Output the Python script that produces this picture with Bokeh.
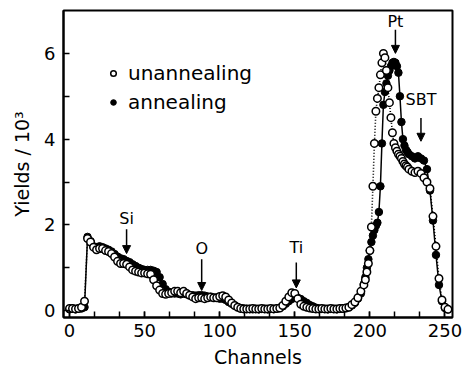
from bokeh.plotting import figure
from bokeh.models import (Range1d, FixedTicker, Legend, LegendItem, Arrow,
                          NormalHead, ColumnDataSource)
from bokeh.core.properties import value
from bokeh.embed import file_html
from bokeh.resources import INLINE

FONT = "DejaVu Sans"

# channel grid (step 2, step 1 around the Pt peak)
channels = list(range(0, 196, 2)) + list(range(196, 226)) + list(range(226, 254, 2))

annealing = [
    0.03, 0.05, 0.03, 0.05, 0.05, 0.08, 1.72, 1.62, 1.50, 1.48,
    1.50, 1.48, 1.45, 1.42, 1.38, 1.32, 1.26, 1.22, 1.20, 1.16,
    1.13, 1.08, 1.04, 1.00, 0.97, 0.95, 0.95, 0.95, 0.93, 0.90,
    0.78, 0.62, 0.50, 0.44, 0.40, 0.40, 0.40, 0.38, 0.40, 0.38,
    0.36, 0.36, 0.35, 0.36, 0.36, 0.35, 0.33, 0.32, 0.30, 0.30,
    0.28, 0.28, 0.25, 0.20, 0.16, 0.12, 0.08, 0.06, 0.05, 0.04,
    0.04, 0.03, 0.04, 0.03, 0.04, 0.04, 0.03, 0.04, 0.04, 0.05,
    0.06, 0.10, 0.16, 0.22, 0.27, 0.30, 0.30, 0.27, 0.22, 0.18,
    0.13, 0.10, 0.07, 0.05, 0.04, 0.04, 0.03, 0.04, 0.04, 0.03,
    0.04, 0.05, 0.06, 0.08, 0.12, 0.18, 0.28, 0.40,
    0.62, 0.78, 1.00, 1.20, 1.40, 1.60, 1.75, 1.88, 1.98, 2.05,
    2.30, 2.90, 3.90, 4.80, 5.10, 5.30, 5.48, 5.60, 5.70, 5.78,
    5.80, 5.78, 5.70, 5.55, 5.00, 4.40, 4.00, 3.85, 3.75, 3.70,
    3.65, 3.60, 3.55, 3.60, 3.55, 3.50, 3.30, 2.80, 2.10, 1.30, 0.60, 0.22, 0.06, 0.03,
]

unannealing = [
    0.05, 0.05, 0.04, 0.05, 0.08, 0.22, 1.68, 1.60, 1.48, 1.42,
    1.45, 1.45, 1.40, 1.38, 1.33, 1.25, 1.15, 1.10, 1.10, 1.08,
    1.02, 0.95, 0.92, 0.90, 0.88, 0.88, 0.86, 0.85, 0.72, 0.58,
    0.48, 0.40, 0.38, 0.40, 0.42, 0.45, 0.45, 0.42, 0.45, 0.40,
    0.36, 0.32, 0.28, 0.30, 0.30, 0.28, 0.30, 0.32, 0.30, 0.30,
    0.33, 0.35, 0.32, 0.25, 0.18, 0.12, 0.08, 0.05, 0.04, 0.04,
    0.04, 0.05, 0.04, 0.04, 0.05, 0.04, 0.04, 0.05, 0.04, 0.05,
    0.06, 0.12, 0.22, 0.32, 0.42, 0.40, 0.28, 0.15, 0.10, 0.08,
    0.06, 0.05, 0.04, 0.04, 0.05, 0.04, 0.04, 0.05, 0.04, 0.04,
    0.05, 0.05, 0.06, 0.08, 0.14, 0.20, 0.30, 0.45,
    0.60, 0.72, 0.90, 1.10, 1.40, 1.95, 2.90, 3.90, 4.65, 4.95,
    5.20, 5.50, 5.78, 6.00, 5.90, 5.60, 5.20, 4.85, 4.50, 4.15,
    3.90, 3.80, 3.72, 3.65, 3.60, 3.55, 3.48, 3.42, 3.38, 3.35,
    3.30, 3.25, 3.22, 3.25, 3.20, 3.10, 3.00, 2.85, 2.20, 1.50, 0.75, 0.25, 0.08, 0.03,
]

# element annotations
elem_names = ["Si", "O", "Ti", "Pt", "SBT"]
elem_text_x = [38, 88, 151, 217, 234]
elem_text_y = [2.16, 1.44, 1.47, 6.75, 4.93]
arrow_x = [38, 88, 151, 217, 234]
arrow_top = [1.90, 1.20, 1.12, 6.55, 4.49]
arrow_tip = [1.33, 0.47, 0.53, 6.00, 3.95]

x_major = [0, 50, 100, 150, 200, 250]
x_minor = [i * 50 / 3 for i in range(16)]
y_major = [0, 2, 4, 6]
y_minor = [1, 3, 5]

p = figure(width=468, height=377, output_backend="svg", toolbar_location=None,
           x_range=Range1d(-4, 255), y_range=Range1d(-0.16, 7.0),
           min_border_left=63, min_border_right=16, min_border_top=10,
           min_border_bottom=60)
p.background_fill_color = "white"
p.border_fill_color = "white"
p.grid.visible = False
p.outline_line_color = "black"
p.outline_line_width = 2

p.xaxis.ticker = FixedTicker(ticks=x_major, minor_ticks=x_minor)
p.yaxis.ticker = FixedTicker(ticks=y_major, minor_ticks=y_minor)
for ax in (p.xaxis, p.yaxis):
    ax.axis_line_width = 2
    ax.major_tick_in = 6
    ax.major_tick_out = 0
    ax.minor_tick_in = 6
    ax.minor_tick_out = 0
    ax.major_tick_line_width = 1.5
    ax.minor_tick_line_width = 1.5
    ax.major_label_text_font = FONT
    ax.major_label_text_font_size = "18px"
    ax.major_label_text_color = "black"
    ax.axis_label_text_font = FONT
    ax.axis_label_text_font_size = "19px"
    ax.axis_label_text_font_style = "normal"
    ax.axis_label_text_color = "black"
p.xaxis.axis_label = "Channels"
p.yaxis.axis_label = "Yields / 10³"
p.xaxis.major_label_standoff = 6
p.yaxis.major_label_standoff = 8
p.xaxis.axis_label_standoff = 6
p.yaxis.axis_label_standoff = 8

src = ColumnDataSource(dict(x=channels, a=annealing, u=unannealing))

p.line("x", "a", source=src, line_color="black", line_width=1.5)
p.line("x", "u", source=src, line_color="black", line_width=1.6, line_dash="1 2")
r_fill = p.scatter("x", "a", source=src, size=7.5, marker="circle",
                   fill_color="black", line_color="black", line_width=1)
r_open = p.scatter("x", "u", source=src, size=7.5, marker="circle",
                   fill_color="white", line_color="black", line_width=1.5)

lsrc = ColumnDataSource(dict(x=elem_text_x, y=elem_text_y, t=elem_names))
p.text("x", "y", text="t", source=lsrc, text_font=value(FONT),
       text_font_size="16px", text_align="center", text_baseline="middle",
       text_color="black")

asrc = ColumnDataSource(dict(x=arrow_x, y0=arrow_top, y1=arrow_tip))
p.add_layout(Arrow(end=NormalHead(size=8, fill_color="black", line_color="black"),
                   x_start="x", y_start="y0", x_end="x", y_end="y1",
                   source=asrc, line_color="black", line_width=1.5))

legend = Legend(items=[LegendItem(label="unannealing", renderers=[r_open]),
                       LegendItem(label="annealing", renderers=[r_fill])],
                location=(43, 203), background_fill_alpha=0, border_line_alpha=0,
                label_text_font=FONT, label_text_font_size="20px",
                label_text_color="black",
                glyph_width=14, glyph_height=14, label_standoff=8,
                spacing=5, padding=0, margin=0)
p.add_layout(legend)

open("out.html", "w").write(file_html(p, INLINE))
